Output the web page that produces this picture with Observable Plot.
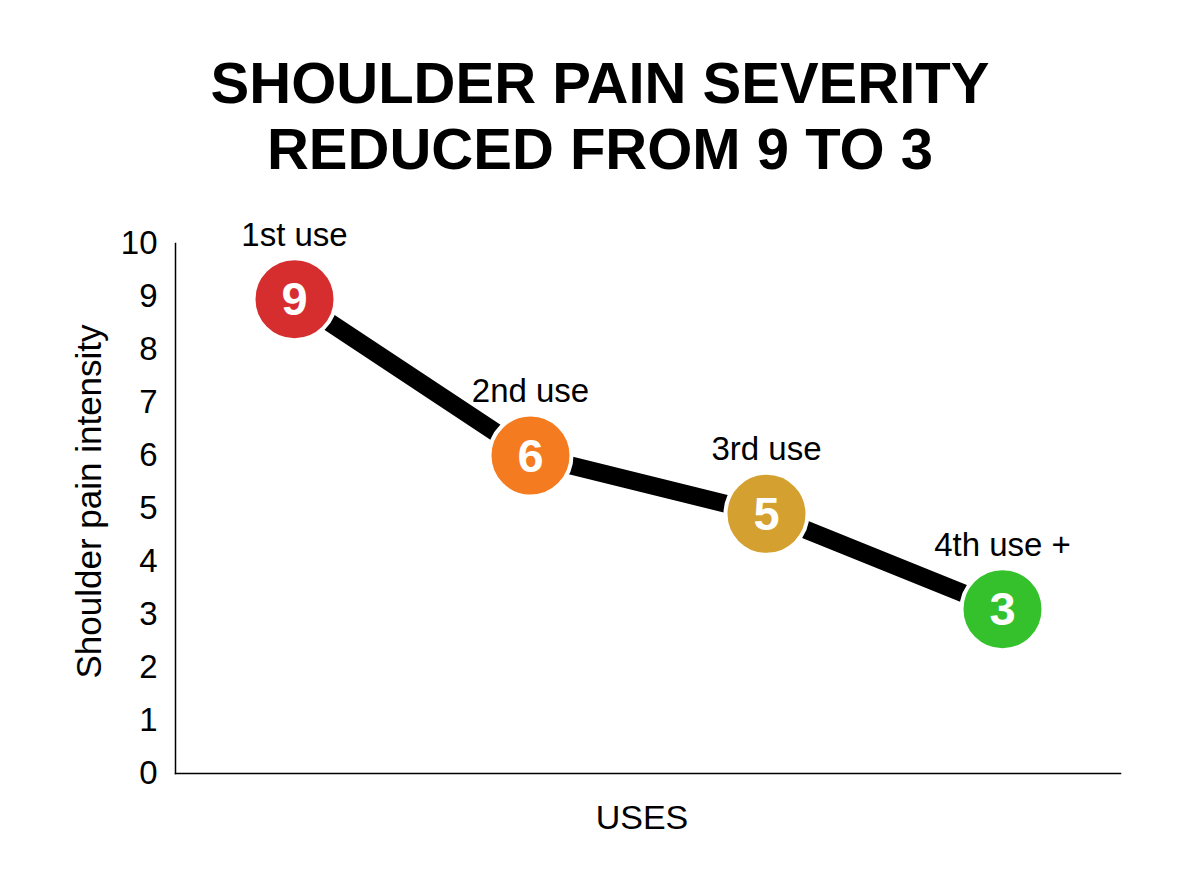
<!DOCTYPE html>
<html>
<head>
<meta charset="utf-8">
<script src="https://cdn.jsdelivr.net/npm/d3@7"></script>
<script src="https://cdn.jsdelivr.net/npm/@observablehq/plot@0.6"></script>
<style>
  html, body { margin: 0; padding: 0; background: #fff; }
  #title {
    width: 1200px; height: 200px; box-sizing: border-box; padding-top: 50px;
    text-align: center; font-family: "Liberation Sans", Arial, sans-serif;
    font-weight: bold; font-size: 58px; line-height: 66px; color: #000;
  }
</style>
</head>
<body>
<div id="title">SHOULDER PAIN SEVERITY<br>REDUCED FROM 9 TO 3</div>
<div id="chart"></div>
<script>
const uses = ["1st use", "2nd use", "3rd use", "4th use +"];
const intensity = [8.95, 6, 4.9, 3.1];
const scores = ["9", "6", "5", "3"];
const colors = ["#d62e2e", "#f47b20", "#d4a030", "#34c12c"];
const yTicks = [0, 1, 2, 3, 4, 5, 6, 7, 8, 9, 10];

const data = uses.map((u, i) => ({use: u, value: intensity[i], score: scores[i], color: colors[i]}));

const chart = Plot.plot({
  width: 1200,
  height: 696,
  marginLeft: 175,
  marginRight: 80,
  marginTop: 43,
  marginBottom: 123,
  style: {fontFamily: "Liberation Sans, Arial, sans-serif", fontSize: "33px", color: "#000", background: "#fff"},
  x: {type: "point", domain: uses, padding: 0.5, axis: null},
  y: {domain: [0, 10], axis: null},
  marks: [
    Plot.axisY(yTicks, {tickSize: 0, tickPadding: 18, fontSize: 33, tickFormat: d => String(d), label: null}),
    Plot.frame({anchor: "left", stroke: "#000", strokeWidth: 1.5}),
    Plot.frame({anchor: "bottom", stroke: "#000", strokeWidth: 1.5}),
    Plot.text(["Shoulder pain intensity"], {frameAnchor: "left", textAnchor: "middle", rotate: -90, dx: -86, dy: -7, fontSize: 35, fill: "#000"}),
    Plot.text(["USES"], {frameAnchor: "bottom", dy: 55, dx: -6, fontSize: 34, fill: "#000"}),
    Plot.line(data, {x: "use", y: "value", stroke: "#000", strokeWidth: 18}),
    Plot.dot(data, {x: "use", y: "value", r: 41, fill: "color", stroke: "#fff", strokeWidth: 4}),
    Plot.text(data, {x: "use", y: "value", text: "score", fill: "#fff", fontWeight: "bold", fontSize: 47, dy: 1}),
    Plot.text(data, {x: "use", y: "value", text: "use", fill: "#000", fontSize: 33, dy: -64})
  ]
});
document.getElementById("chart").appendChild(chart);
</script>
</body>
</html>
